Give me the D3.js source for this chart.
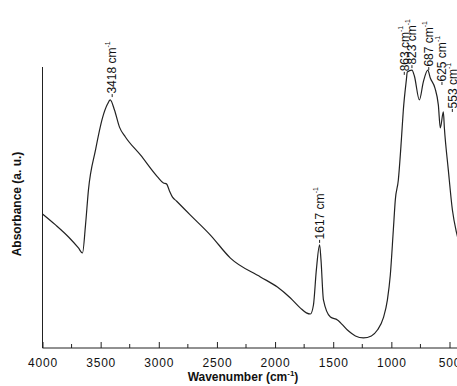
<!DOCTYPE html>
<html>
<head>
<meta charset="utf-8">
<script src="https://cdn.jsdelivr.net/npm/d3@7"></script>
<style>
  body { margin: 0; background: #fff; }
  svg { display: block; }
  text { font-family: "Liberation Sans", Arial, sans-serif; fill: #111; }
</style>
</head>
<body>
<svg width="457" height="386"></svg>
<script>
// spectrum (wavenumber in cm-1, absorbance in arbitrary units)
var wavenumber = [4000, 3888, 3776, 3691, 3656, 3630, 3605, 3544, 3484, 3441, 3418, 3381, 3338, 3287,
  3158, 3011, 2960, 2934, 2908, 2882, 2848, 2728, 2556, 2384, 2126, 1980, 1868, 1782, 1731, 1696,
  1670, 1645, 1617, 1605, 1584, 1524, 1464, 1378, 1309, 1240, 1172, 1120, 1069, 1034, 1009, 983,
  966, 940, 914, 897, 871, 863, 823, 802, 759, 725, 687, 665, 625, 596, 579, 553, 544, 510, 475, 441, 424];
var absorbance = [0.477, 0.438, 0.395, 0.356, 0.338, 0.438, 0.562, 0.705, 0.819, 0.868, 0.883, 0.847, 0.786, 0.751,
  0.687, 0.609, 0.587, 0.584, 0.559, 0.537, 0.523, 0.473, 0.402, 0.320, 0.253, 0.217, 0.178, 0.142, 0.125, 0.121,
  0.153, 0.278, 0.367, 0.313, 0.171, 0.110, 0.100, 0.064, 0.043, 0.036, 0.043, 0.064, 0.107, 0.171, 0.260, 0.420,
  0.527, 0.598, 0.740, 0.847, 0.954, 0.982, 0.989, 0.968, 0.883, 0.947, 0.989, 0.961, 0.925, 0.865, 0.783, 0.840, 0.783, 0.633, 0.491, 0.413, 0.384];

var peakLabels = ["3418", "1617", "863", "823", "687", "625", "553"];
var peakX = [3418, 1617, 863, 823, 687, 625, 553];
var peakY = [0.893, 0.374, 0.972, 0.996, 0.989, 0.936, 0.840];
var labelShift = [2, 0, -3, 0, 1, 7, 9];

var majorTicks = [4000, 3500, 3000, 2500, 2000, 1500, 1000, 500];
var minorTicks = d3.range(3750, 400, -500);

var svg = d3.select("svg");
var x = d3.scaleLinear().domain([4000, 500]).range([42.5, 449.5]);
var y = d3.scaleLinear().domain([0, 1]).range([348, 67]);

// axes
var xAxis = d3.axisBottom(x).tickValues(majorTicks).tickSize(-6).tickPadding(10).tickFormat(d3.format("d"));
var gx = svg.append("g").attr("transform", "translate(0,348)").call(xAxis);
gx.select(".domain").attr("d", "M42.5,0H457").attr("stroke", "#222");
gx.selectAll(".tick line").attr("stroke", "#222");
gx.selectAll(".tick text").attr("font-size", 12).attr("letter-spacing", 0.8).attr("fill", "#111");
gx.selectAll(".minor").data(minorTicks).enter().append("line")
  .attr("x1", d => x(d)).attr("x2", d => x(d))
  .attr("y1", 0).attr("y2", -4).attr("stroke", "#222");

svg.append("line")
  .attr("x1", 42.5).attr("x2", 42.5).attr("y1", 67).attr("y2", 348)
  .attr("stroke", "#222");

// spectrum
var pts = wavenumber.map((w, i) => [w, absorbance[i]]);
var line = d3.line().x(d => x(d[0])).y(d => y(d[1])).curve(d3.curveMonotoneX);
svg.append("path").datum(pts)
  .attr("d", line).attr("fill", "none")
  .attr("stroke", "#222").attr("stroke-width", 1.2);

// peak labels
peakLabels.forEach(function (lab, i) {
  var px = x(peakX[i]) + labelShift[i], py = y(peakY[i]);
  var g = svg.append("g").attr("transform", "translate(" + (px + 4.3) + "," + py + ") rotate(-90)");
  g.append("line").attr("x1", 0).attr("x2", 3).attr("y1", -4.3).attr("y2", -4.3).attr("stroke", "#222");
  var t = g.append("text").attr("x", 3.5).attr("y", 0).attr("font-size", 12);
  t.append("tspan").text(lab + " cm");
  t.append("tspan").attr("dy", -6).attr("font-size", 7).text("-1");
});

// axis titles
var xt = svg.append("text").attr("x", 243).attr("y", 381)
  .attr("text-anchor", "middle").attr("font-size", 12).attr("font-weight", "bold");
xt.append("tspan").text("Wavenumber (cm");
xt.append("tspan").attr("dy", -5).attr("font-size", 8).text("-1");
xt.append("tspan").attr("dy", 5).text(")");

svg.append("text")
  .attr("transform", "translate(21,204) rotate(-90)")
  .attr("text-anchor", "middle").attr("font-size", 12).attr("font-weight", "bold")
  .text("Absorbance (a. u.)");
</script>
</body>
</html>
